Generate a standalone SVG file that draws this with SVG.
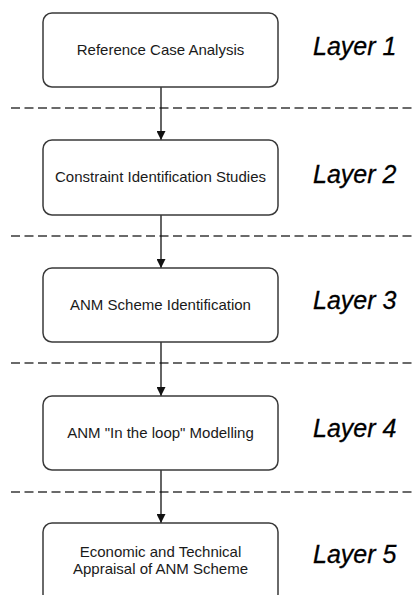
<svg xmlns="http://www.w3.org/2000/svg" width="414" height="595" viewBox="0 0 414 595">
  <defs>
    <marker id="arrow" viewBox="0 0 10 10" refX="10" refY="5" markerWidth="9" markerHeight="9" markerUnits="userSpaceOnUse" orient="auto">
      <path d="M0,0 L10,5 L0,10 Z" fill="#111"/>
    </marker>
    <style>
      .box { fill: #ffffff; stroke: #3a3a3a; stroke-width: 1.5; }
      .label { font-family: "Liberation Sans", Arial, sans-serif; font-size: 15px; fill: #1a1a1a; text-anchor: middle; }
      .layer { font-family: "Liberation Sans", Arial, sans-serif; font-size: 25px; font-style: italic; fill: #000; stroke: #000; stroke-width: 0.3; }
      .divider { stroke: #3a3a3a; stroke-width: 1.5; stroke-dasharray: 9 4.5; fill: none; }
      .link { stroke: #111; stroke-width: 1.3; fill: none; marker-end: url(#arrow); }
    </style>
  </defs>
  <rect width="414" height="595" fill="#ffffff"/>

  <!-- layer separators -->
  <g id="dividers">
    <line class="divider" x1="11" y1="108" x2="414" y2="108"/>
    <line class="divider" x1="11" y1="236" x2="414" y2="236"/>
    <line class="divider" x1="11" y1="363" x2="414" y2="363"/>
    <line class="divider" x1="11" y1="492" x2="414" y2="492"/>
  </g>

  <!-- connectors between stages -->
  <g id="connectors">
    <line class="link" x1="161" y1="87" x2="161" y2="140"/>
    <line class="link" x1="161" y1="215" x2="161" y2="268"/>
    <line class="link" x1="161" y1="342" x2="161" y2="396"/>
    <line class="link" x1="161" y1="470" x2="161" y2="523"/>
  </g>

  <g id="node1">
    <rect class="box" x="43" y="13" width="235" height="74" rx="9"/>
    <text class="label" x="160.5" y="55">Reference Case Analysis</text>
  </g>
  <g id="node2">
    <rect class="box" x="43" y="140" width="235" height="75" rx="9"/>
    <text class="label" x="160.5" y="182">Constraint Identification Studies</text>
  </g>
  <g id="node3">
    <rect class="box" x="43" y="268" width="235" height="74" rx="9"/>
    <text class="label" x="160.5" y="310">ANM Scheme Identification</text>
  </g>
  <g id="node4">
    <rect class="box" x="43" y="396" width="235" height="74" rx="9"/>
    <text class="label" x="160.5" y="438">ANM "In the loop" Modelling</text>
  </g>
  <g id="node5">
    <rect class="box" x="43" y="523" width="235" height="80" rx="9"/>
    <text class="label" x="160.5" y="557">Economic and Technical</text>
    <text class="label" x="160.5" y="574">Appraisal of ANM Scheme</text>
  </g>

  <!-- layer labels -->
  <g id="layers">
    <text class="layer" x="313" y="55">Layer 1</text>
    <text class="layer" x="313" y="183">Layer 2</text>
    <text class="layer" x="313" y="309">Layer 3</text>
    <text class="layer" x="313" y="437">Layer 4</text>
    <text class="layer" x="313" y="563">Layer 5</text>
  </g>
</svg>
